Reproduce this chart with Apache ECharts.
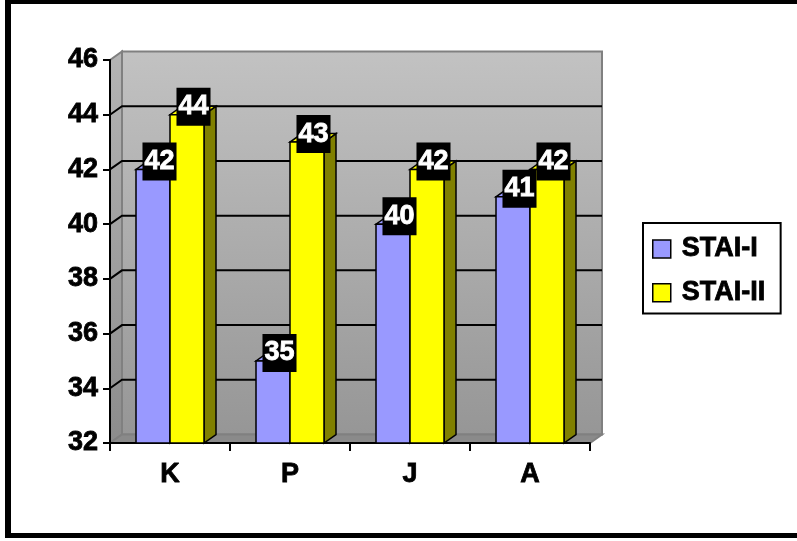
<!DOCTYPE html>
<html>
<head>
<meta charset="utf-8">
<script src="https://cdn.jsdelivr.net/npm/echarts@6/dist/echarts.min.js"></script>
<style>
  html, body { margin: 0; padding: 0; background: #fff; }
  #chart { width: 797px; height: 541px; }
</style>
</head>
<body>
<div id="chart"></div>
<script>
// Group categories and the two STAI measurements
const categories = ['K', 'P', 'J', 'A'];
const staiI = [42, 35, 40, 41];
const staiII = [44, 43, 42, 42];
const seriesNames = ['STAI-I', 'STAI-II'];
const yMin = 32, yMax = 46, yStep = 2;

// 3D extrusion (pixels) and bar geometry
const DX = 12, DY = -8.5;
const BAR_RATIO = 34 / 120;
const FONT = '"Liberation Sans", Arial, sans-serif';

const chart = echarts.init(document.getElementById('chart'), null, { renderer: 'canvas' });

function barRenderer(side, frontColor, sideColor, topColor) {
  return function (params, api) {
    const idx = api.value(0), val = api.value(1);
    const top = api.coord([idx, val]);
    const base = api.coord([idx, yMin]);
    const bw = api.size([1, 0])[0] * BAR_RATIO;
    const x0 = side < 0 ? top[0] - bw : top[0];
    const x1 = x0 + bw;
    const yt = top[1], yb = base[1];
    const stroke = { stroke: '#000', lineWidth: 1.5, lineJoin: 'miter' };
    return {
      type: 'group',
      children: [
        { type: 'polygon', shape: { points: [[x1, yt], [x1 + DX, yt + DY], [x1 + DX, yb + DY], [x1, yb]] },
          style: Object.assign({ fill: sideColor }, stroke) },
        { type: 'polygon', shape: { points: [[x0, yt], [x1, yt], [x1 + DX, yt + DY], [x0 + DX, yt + DY]] },
          style: Object.assign({ fill: topColor }, stroke) },
        { type: 'rect', shape: { x: x0, y: yt, width: bw, height: yb - yt },
          style: Object.assign({ fill: frontColor }, stroke) }
      ]
    };
  };
}

function labelRenderer(side) {
  return function (params, api) {
    const idx = api.value(0), val = api.value(1);
    const top = api.coord([idx, val]);
    const bw = api.size([1, 0])[0] * BAR_RATIO;
    const cx = top[0] + side * bw / 2 + 6.5;
    return {
      type: 'text',
      style: {
        text: String(val), x: cx, y: top[1] - 8,
        align: 'center', verticalAlign: 'middle',
        fill: '#fff', font: 'bold 27px ' + FONT, lineHeight: 30,
        stroke: '#fff', lineWidth: 0.8,
        backgroundColor: '#000', padding: [4, 2, 4, 2]
      }
    };
  };
}

// Back wall, side wall, floor and wall gridlines
function wallRenderer(params, api) {
  const cs = params.coordSys;
  const L = cs.x, R = cs.x + cs.width, T = cs.y, B = cs.y + cs.height;
  const edge = { stroke: '#808080', lineWidth: 2 };
  const children = [
    { type: 'rect', shape: { x: L + DX, y: T + DY, width: R - L, height: B - T },
      style: Object.assign({ fill: { type: 'linear', x: 0, y: 0, x2: 0, y2: 1,
        colorStops: [{ offset: 0, color: '#c2c2c2' }, { offset: 1, color: '#969696' }] } }, edge) },
    { type: 'polygon', shape: { points: [[L, T], [L + DX, T + DY], [L + DX, B + DY], [L, B]] },
      style: Object.assign({ fill: { type: 'linear', x: 0, y: 0, x2: 0, y2: 1,
        colorStops: [{ offset: 0, color: '#b4b4b4' }, { offset: 1, color: '#8c8c8c' }] } }, edge) },
    { type: 'polygon', shape: { points: [[L, B], [R, B], [R + DX, B + DY], [L + DX, B + DY]] },
      style: Object.assign({ fill: '#8a8a8a' }, edge) }
  ];
  for (let v = yMin + yStep; v < yMax; v += yStep) {
    const y = api.coord([0, v])[1];
    children.push({ type: 'polyline', shape: { points: [[L, y], [L + DX, y + DY], [R + DX, y + DY]] },
      style: { stroke: '#000', lineWidth: 2, fill: null } });
  }
  return { type: 'group', children: children };
}

const pairs = arr => arr.map((v, i) => [i, v]);

const boldText = { color: '#000', fontSize: 27, fontWeight: 'bold', fontFamily: FONT,
  textBorderColor: '#000', textBorderWidth: 0.8 };

const option = {
  backgroundColor: '#fff',
  animation: false,
  grid: { left: 110, top: 60, width: 480, height: 383 },
  xAxis: {
    type: 'category', data: categories, z: 3,
    axisLine: { lineStyle: { color: '#000', width: 2 } },
    axisTick: { show: true, length: 8, lineStyle: { color: '#000', width: 2 } },
    axisLabel: Object.assign({ margin: 18, lineHeight: 27 }, boldText),
    splitLine: { show: false }
  },
  yAxis: {
    type: 'value', min: yMin, max: yMax, interval: yStep, z: 3,
    axisLine: { show: true, lineStyle: { color: '#000', width: 2 } },
    axisTick: { show: true, length: 7, lineStyle: { color: '#000', width: 2 } },
    axisLabel: Object.assign({ margin: 12 }, boldText),
    splitLine: { show: false }
  },
  legend: {
    data: seriesNames, orient: 'vertical', left: 643, top: 223,
    padding: [12, 15, 7, 9], itemGap: 16,
    itemWidth: 18, itemHeight: 18, icon: 'rect',
    itemStyle: { borderColor: '#000', borderWidth: 1.5 },
    borderColor: '#000', borderWidth: 2, backgroundColor: '#fff',
    selectedMode: false,
    textStyle: Object.assign({ lineHeight: 27, padding: [0, 0, 0, 6] }, boldText)
  },
  graphic: [
    { type: 'rect', shape: { x: 5, y: 0, width: 800, height: 4 }, style: { fill: '#000' } },
    { type: 'rect', shape: { x: 5, y: 0, width: 6, height: 538 }, style: { fill: '#000' } },
    { type: 'rect', shape: { x: 5, y: 533, width: 800, height: 5 }, style: { fill: '#000' } }
  ],
  series: [
    { type: 'custom', name: 'walls', z: 1, silent: true, renderItem: wallRenderer, data: [[0, yMin]] },
    { type: 'custom', name: seriesNames[0], z: 4, itemStyle: { color: '#9999ff' },
      renderItem: barRenderer(-1, '#9999ff', '#4d4d80', '#9999ff'), data: pairs(staiI) },
    { type: 'custom', name: seriesNames[1], z: 5, itemStyle: { color: '#ffff00' },
      renderItem: barRenderer(1, '#ffff00', '#808000', '#ffff00'), data: pairs(staiII) },
    { type: 'custom', name: 'STAI-I values', z: 10, silent: true, renderItem: labelRenderer(-1), data: pairs(staiI) },
    { type: 'custom', name: 'STAI-II values', z: 10, silent: true, renderItem: labelRenderer(1), data: pairs(staiII) }
  ]
};

chart.setOption(option);
</script>
</body>
</html>
